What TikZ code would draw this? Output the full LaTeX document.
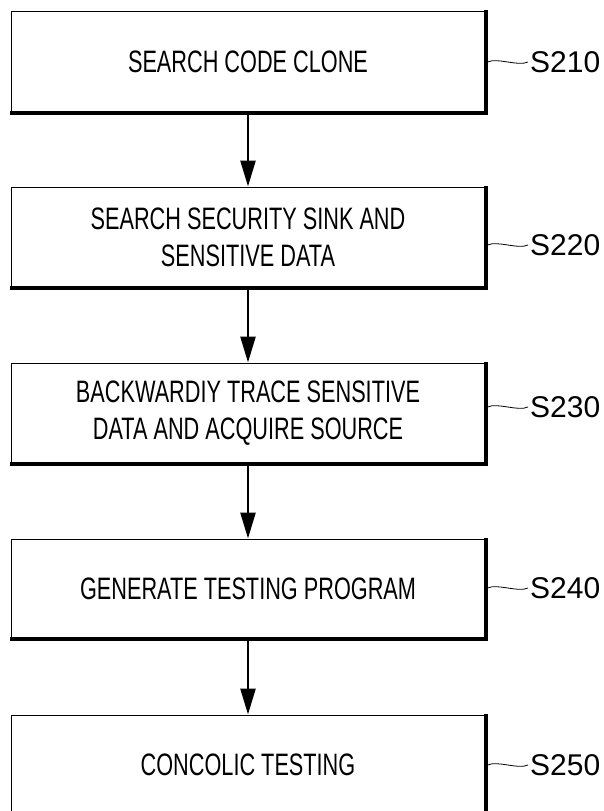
\documentclass[tikz,border=0pt]{standalone}
\usepackage{fontspec}
\setmainfont{Liberation Sans}
\newfontfamily\boxfont[FakeStretch=0.70]{Liberation Sans}
\usetikzlibrary{arrows.meta}
\begin{document}
\begin{tikzpicture}[x=1pt,y=-1pt,
  stepbox/.style={draw=black, line width=1pt, minimum width=474pt, minimum height=100pt,
    inner sep=0pt, align=center, font=\boxfont\fontsize{31}{37}\selectfont},
  steplabel/.style={anchor=west, inner sep=0pt, font=\fontsize{30}{36}\selectfont},
  shadowline/.style={line width=4pt},
  flow/.style={line width=2.5pt, -{Triangle[length=26pt,width=15pt]}},
  leader/.style={line width=0.8pt, out=25, in=205, looseness=0.7}]
\useasboundingbox (0,0) rectangle (603,811);
\clip (0,0) rectangle (603,811);

\node[stepbox, minimum height=101pt] (b1) at (248,61.5) {SEARCH CODE CLONE};
\node[stepbox] (b2) at (248,237) {SEARCH SECURITY SINK AND\\SENSITIVE DATA};
\node[stepbox] (b3) at (248,413) {BACKWARDIY TRACE SENSITIVE\\DATA AND ACQUIRE SOURCE};
\node[stepbox, minimum height=99pt] (b4) at (248,588.5) {GENERATE TESTING PROGRAM};
\node[stepbox] (b5) at (248,765) {CONCOLIC TESTING};

\foreach \b in {b1,b2,b3,b4,b5}{
  \draw[shadowline] ([yshift=0.5pt]\b.north east) -- (\b.south east) -- ([xshift=-0.5pt]\b.south west);
}

\draw[flow] (b1.south) -- (b2.north);
\draw[flow] (b2.south) -- (b3.north);
\draw[flow] (b3.south) -- (b4.north);
\draw[flow] (b4.south) -- (b5.north);

\node[steplabel] (l1) at (530,62) {S210};
\node[steplabel] (l2) at (530,245) {S220};
\node[steplabel] (l3) at (530,407) {S230};
\node[steplabel] (l4) at (530,588) {S240};
\node[steplabel] (l5) at (530,765) {S250};

\draw[leader] ([xshift=2pt]b1.east |- l1.west) to ([xshift=-2pt]l1.west);
\draw[leader] ([xshift=2pt]b2.east |- l2.west) to ([xshift=-2pt]l2.west);
\draw[leader] ([xshift=2pt]b3.east |- l3.west) to ([xshift=-2pt]l3.west);
\draw[leader] ([xshift=2pt]b4.east |- l4.west) to ([xshift=-2pt]l4.west);
\draw[leader] ([xshift=2pt]b5.east |- l5.west) to ([xshift=-2pt]l5.west);
\end{tikzpicture}
\end{document}
